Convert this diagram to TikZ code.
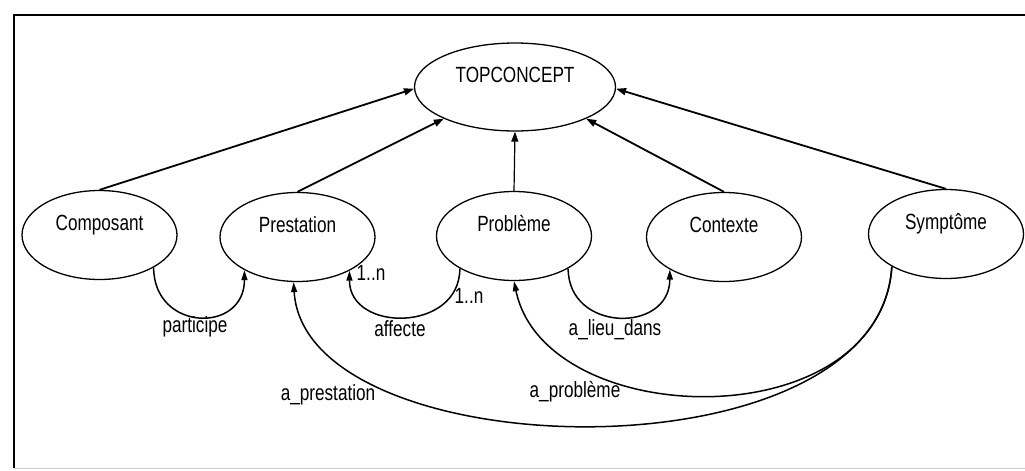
\documentclass[tikz,border=0pt]{standalone}
\usepackage{fontspec}
\setmainfont{Liberation Sans}[FakeStretch=0.78]
\usetikzlibrary{shapes.geometric,arrows.meta}
\begin{document}
\begin{tikzpicture}[x=1pt,y=-1pt,
  concept/.style={ellipse, draw, line width=1.3pt, minimum width=155pt, minimum height=89pt,
    inner sep=0pt, text height=15.5pt, text depth=24.5pt, font=\fontsize{22}{26}\selectfont},
  lbl/.style={font=\fontsize{22}{26}\selectfont, inner sep=0pt},
  isa/.style={line width=1.8pt, -{Triangle[length=10pt,width=7pt]}},
  thinisa/.style={line width=1.2pt, -{Triangle[length=10pt,width=7pt]}},
  rel/.style={line width=1.5pt, -{Triangle[length=10pt,width=6pt]}}]

\useasboundingbox (0,0) rectangle (1025,471);
\fill[white] (0,0) rectangle (1025,471);
\draw[line width=1.5pt] (14,468) -- (14,15) -- (1025,15);
\draw[black!20, line width=1pt] (14,468) -- (1025,468);

% nodes
\node[concept, minimum width=201pt, minimum height=88pt] (top) at (515,87) {TOPCONCEPT};
\node[concept] (comp) at (99.5,235) {Composant};
\node[concept] (prest) at (297.5,237) {Prestation};
\node[concept] (prob) at (514,236) {Problème};
\node[concept] (ctx) at (724,237) {Contexte};
\node[concept] (symp) at (946,234) {Symptôme};

% is-a links
\draw[isa] (comp.north) -- (top.181);
\draw[isa] (prest.north) -- (top.204);
\draw[thinisa] (prob.north) -- (top.south);
\draw[isa] (ctx.north) -- (top.336);
\draw[isa] (symp.north) -- (top.359);

% relations
\draw[rel] (comp.-31) .. controls +(0,64) and +(0,64) .. (prest.212);
\draw[rel] (prob.211) .. controls +(0,64) and +(0,62) .. (prest.-33);
\draw[rel] (prob.-31) .. controls +(0,64) and +(0,64) .. (ctx.211);
\draw[rel] (symp.211) .. controls (880,440) and (545,432) .. (prob.south);
\draw[rel] (symp.211) .. controls (880,482) and (305,470) .. (prest.265);

% labels
\node[lbl] (lpart) at (195,327) {participe};
\node[lbl] (laff) at (400,329) {affecte};
\node[lbl] (lcard1) at (371,273) {1..n};
\node[lbl] (lcard2) at (469,296) {1..n};
\node[lbl] (llieu) at (615,330) {a\_lieu\_dans};
\node[lbl] (lprest) at (328,395) {a\_prestation};
\node[lbl] (lprob) at (575,392) {a\_problème};
\end{tikzpicture}
\end{document}
